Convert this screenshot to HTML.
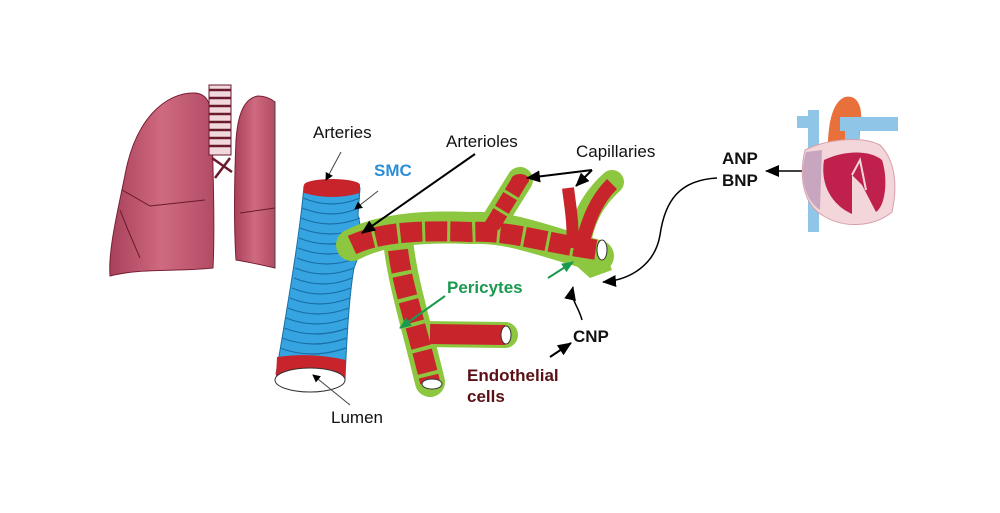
<!DOCTYPE html>
<html><head><meta charset="utf-8"><style>
html,body{margin:0;padding:0;background:#fff;}
svg{display:block;}
text{font-family:"Liberation Sans",Arial,sans-serif;}
</style></head><body>
<svg width="1000" height="513" viewBox="0 0 1000 513" xmlns="http://www.w3.org/2000/svg">
<defs>
<marker id="ah" markerWidth="8" markerHeight="8" refX="7" refY="4" orient="auto" markerUnits="userSpaceOnUse"><path d="M0,0 L8,4 L0,8 z" fill="#000"/></marker>
<marker id="ahb" markerWidth="14" markerHeight="12" refX="13" refY="6" orient="auto" markerUnits="userSpaceOnUse"><path d="M0,0 L14,6 L0,12 z" fill="#000"/></marker>
<marker id="ahg" markerWidth="12" markerHeight="10" refX="11" refY="5" orient="auto" markerUnits="userSpaceOnUse"><path d="M0,0 L12,5 L0,10 z" fill="#1a9a50"/></marker>
<linearGradient id="lg" x1="0" x2="1"><stop offset="0" stop-color="#a8405a"/><stop offset="0.5" stop-color="#cf6a80"/><stop offset="1" stop-color="#b24c65"/></linearGradient>
</defs>

<!-- Lungs -->
<path d="M195,93 C165,92 135,120 125,175 C118,210 108,250 110,276 C140,268 175,272 213,268 C215,230 213,170 212,125 C211,100 206,94 195,93 Z" fill="url(#lg)" stroke="#7a2035" stroke-width="1"/>
<path d="M122,190 L150,206 L205,200 M120,210 L128,230 L140,258" fill="none" stroke="#6a1a2c" stroke-width="1"/>
<path d="M258,96 C245,98 238,112 236,140 C234,190 234,230 236,260 C248,262 262,265 275,268 L275,102 C270,98 264,96 258,96 Z" fill="url(#lg)" stroke="#7a2035" stroke-width="1"/>
<path d="M240,213 L275,208" fill="none" stroke="#6a1a2c" stroke-width="1"/>
<line x1="275" y1="102" x2="275" y2="268" stroke="#444" stroke-width="1"/>
<rect x="209" y="85" width="22" height="70" fill="#f1d8dc" stroke="#6a1a2c" stroke-width="1"/>
<g stroke="#6a1a2c" stroke-width="2.5">
<line x1="209" y1="90" x2="231" y2="90"/><line x1="209" y1="98" x2="231" y2="98"/><line x1="209" y1="106" x2="231" y2="106"/><line x1="209" y1="114" x2="231" y2="114"/><line x1="209" y1="122" x2="231" y2="122"/><line x1="209" y1="130" x2="231" y2="130"/><line x1="209" y1="138" x2="231" y2="138"/><line x1="209" y1="146" x2="231" y2="146"/>
<line x1="212" y1="158" x2="232" y2="172"/><line x1="230" y1="158" x2="215" y2="178"/></g>

<!-- Artery blue cylinder -->
<path d="M304,186 C300,230 292,280 276,374 L345,380 C347,330 350,290 354,268 C362,250 362,230 358,215 L360,188 Z" fill="#35a4e0" stroke="#1a6fa5" stroke-width="1"/>
<g fill="none" stroke="#1a6fa5" stroke-width="1.2">
<path d="M303,198 Q332,210 360,198"/><path d="M302,208 Q332,220 359,208"/><path d="M301,218 Q330,230 360,218"/><path d="M300,228 Q330,240 361,228"/><path d="M299,238 Q328,250 361,238"/><path d="M298,248 Q328,260 360,248"/><path d="M297,258 Q326,270 358,258"/><path d="M295,268 Q324,280 354,268"/><path d="M294,278 Q323,290 352,278"/><path d="M292,288 Q320,300 351,288"/><path d="M290,298 Q319,310 350,298"/><path d="M288,308 Q317,320 349,308"/><path d="M286,318 Q316,330 348,318"/><path d="M284,328 Q315,340 348,328"/><path d="M282,338 Q313,350 347,338"/><path d="M280,348 Q311,360 346,348"/>
</g>
<ellipse cx="332" cy="185" rx="28" ry="6" fill="#c8242c"/>
<path d="M304,185 L304,193 Q332,201 360,193 L360,185 Z" fill="#c8242c"/>
<path d="M277,357 Q311,352 346,360 L345,380 L276,376 Z" fill="#c8242c"/>
<ellipse cx="310" cy="380" rx="35" ry="12" fill="#fff" stroke="#333" stroke-width="1"/>

<!-- Arterioles green -->
<g fill="none" stroke="#8dc63f" stroke-linecap="round" stroke-linejoin="round">
<path d="M352,245 C380,230 420,226 470,228 C510,226 540,240 598,256" stroke-width="32"/>
<path d="M398,240 C402,280 415,320 430,382" stroke-width="30"/>
<path d="M420,334 L505,335" stroke-width="26"/>
<path d="M490,228 L520,180" stroke-width="26"/>
<path d="M578,248 C582,220 592,200 612,182" stroke-width="24"/>
</g>
<path d="M570,245 L600,240 L612,270 L590,278 L572,262 Z" fill="#8dc63f"/>
<g fill="none" stroke="#c8242c" stroke-linejoin="round">
<path d="M352,245 C380,232 420,230 470,232 C510,230 540,242 598,250" stroke-width="20" stroke-dasharray="22 3"/>
<path d="M398,250 C402,285 415,320 430,382" stroke-width="20" stroke-dasharray="22 4"/>
<path d="M430,334 L505,335" stroke-width="20"/>
<path d="M492,226 L520,180" stroke-width="16" stroke-dasharray="16 3"/>
<path d="M572,248 C574,225 570,205 568,188" stroke-width="12"/>
<path d="M582,245 C588,220 596,200 612,184" stroke-width="14"/>
</g>
<ellipse cx="520" cy="180" rx="9" ry="6" fill="#c8242c"/>
<ellipse cx="506" cy="335" rx="5" ry="9" fill="#fff" stroke="#333"/>
<ellipse cx="432" cy="384" rx="10" ry="5" fill="#fff" stroke="#333"/>
<ellipse cx="602" cy="250" rx="5" ry="10" fill="#fff" stroke="#333"/>

<!-- Labels -->
<text x="313" y="138" font-size="17" fill="#111">Arteries</text>
<text x="374" y="176" font-size="17" font-weight="bold" fill="#2e8fd6">SMC</text>
<text x="446" y="147" font-size="17" fill="#111">Arterioles</text>
<text x="576" y="157" font-size="17" fill="#111">Capillaries</text>
<text x="447" y="293" font-size="17" font-weight="bold" fill="#1a9a50">Pericytes</text>
<text x="573" y="342" font-size="17" font-weight="bold" fill="#111">CNP</text>
<text x="467" y="381" font-size="17" font-weight="bold" fill="#5a1016">Endothelial</text>
<text x="467" y="402" font-size="17" font-weight="bold" fill="#5a1016">cells</text>
<text x="331" y="423" font-size="17" fill="#111">Lumen</text>
<text x="722" y="164" font-size="17" font-weight="bold" fill="#111">ANP</text>
<text x="722" y="186" font-size="17" font-weight="bold" fill="#111">BNP</text>

<!-- Arrows -->
<line x1="341" y1="152" x2="326" y2="180" stroke="#444" stroke-width="1" marker-end="url(#ah)"/>
<line x1="378" y1="191" x2="355" y2="209" stroke="#444" stroke-width="1" marker-end="url(#ah)"/>
<line x1="475" y1="154" x2="362" y2="233" stroke="#000" stroke-width="2" marker-end="url(#ahb)"/>
<line x1="592" y1="170" x2="527" y2="178" stroke="#000" stroke-width="2" marker-end="url(#ahb)"/>
<line x1="592" y1="170" x2="576" y2="186" stroke="#000" stroke-width="2" marker-end="url(#ahb)"/>
<line x1="548" y1="278" x2="573" y2="262" stroke="#1a9a50" stroke-width="2" marker-end="url(#ahg)"/>
<line x1="445" y1="296" x2="400" y2="328" stroke="#1a9a50" stroke-width="2" marker-end="url(#ahg)"/>
<path d="M582,320 C578,305 570,300 573,287" fill="none" stroke="#000" stroke-width="1.5" marker-end="url(#ahb)"/>
<line x1="550" y1="357" x2="571" y2="343" stroke="#000" stroke-width="2" marker-end="url(#ahb)"/>
<line x1="350" y1="405" x2="313" y2="375" stroke="#444" stroke-width="1" marker-end="url(#ah)"/>
<line x1="805" y1="171" x2="766" y2="171" stroke="#000" stroke-width="1.5" marker-end="url(#ahb)"/>
<path d="M717,178 C680,180 665,200 660,235 C655,265 630,280 603,282" fill="none" stroke="#000" stroke-width="1.5" marker-end="url(#ahb)"/>

<!-- Heart -->
<rect x="808" y="110" width="11" height="122" fill="#8fc6e8"/>
<rect x="797" y="116" width="22" height="12" fill="#8fc6e8"/>
<path d="M828,170 C826,125 832,102 845,97 C858,94 864,108 860,128 L858,170 Z" fill="#e8703a"/>
<rect x="840" y="117" width="58" height="14" fill="#8fc6e8"/>
<rect x="845" y="117" width="14" height="50" fill="#8fc6e8"/>
<path d="M805,150 C798,180 805,205 822,215 C845,230 875,226 892,212 C898,185 895,160 880,145 C860,135 825,140 805,150 Z" fill="#f2d6da" stroke="#d8a0aa"/>
<path d="M806,152 C800,172 802,198 820,210 L822,150 Z" fill="#c9a6c0"/>
<path d="M824,160 C820,185 832,205 852,214 L852,175 L862,185 L876,212 C886,205 888,178 882,160 C870,150 845,150 824,160 Z" fill="#c0204c"/>
<path d="M852,175 L860,160 L866,190" fill="none" stroke="#f2d6da" stroke-width="2"/>
</svg>
</body></html>
